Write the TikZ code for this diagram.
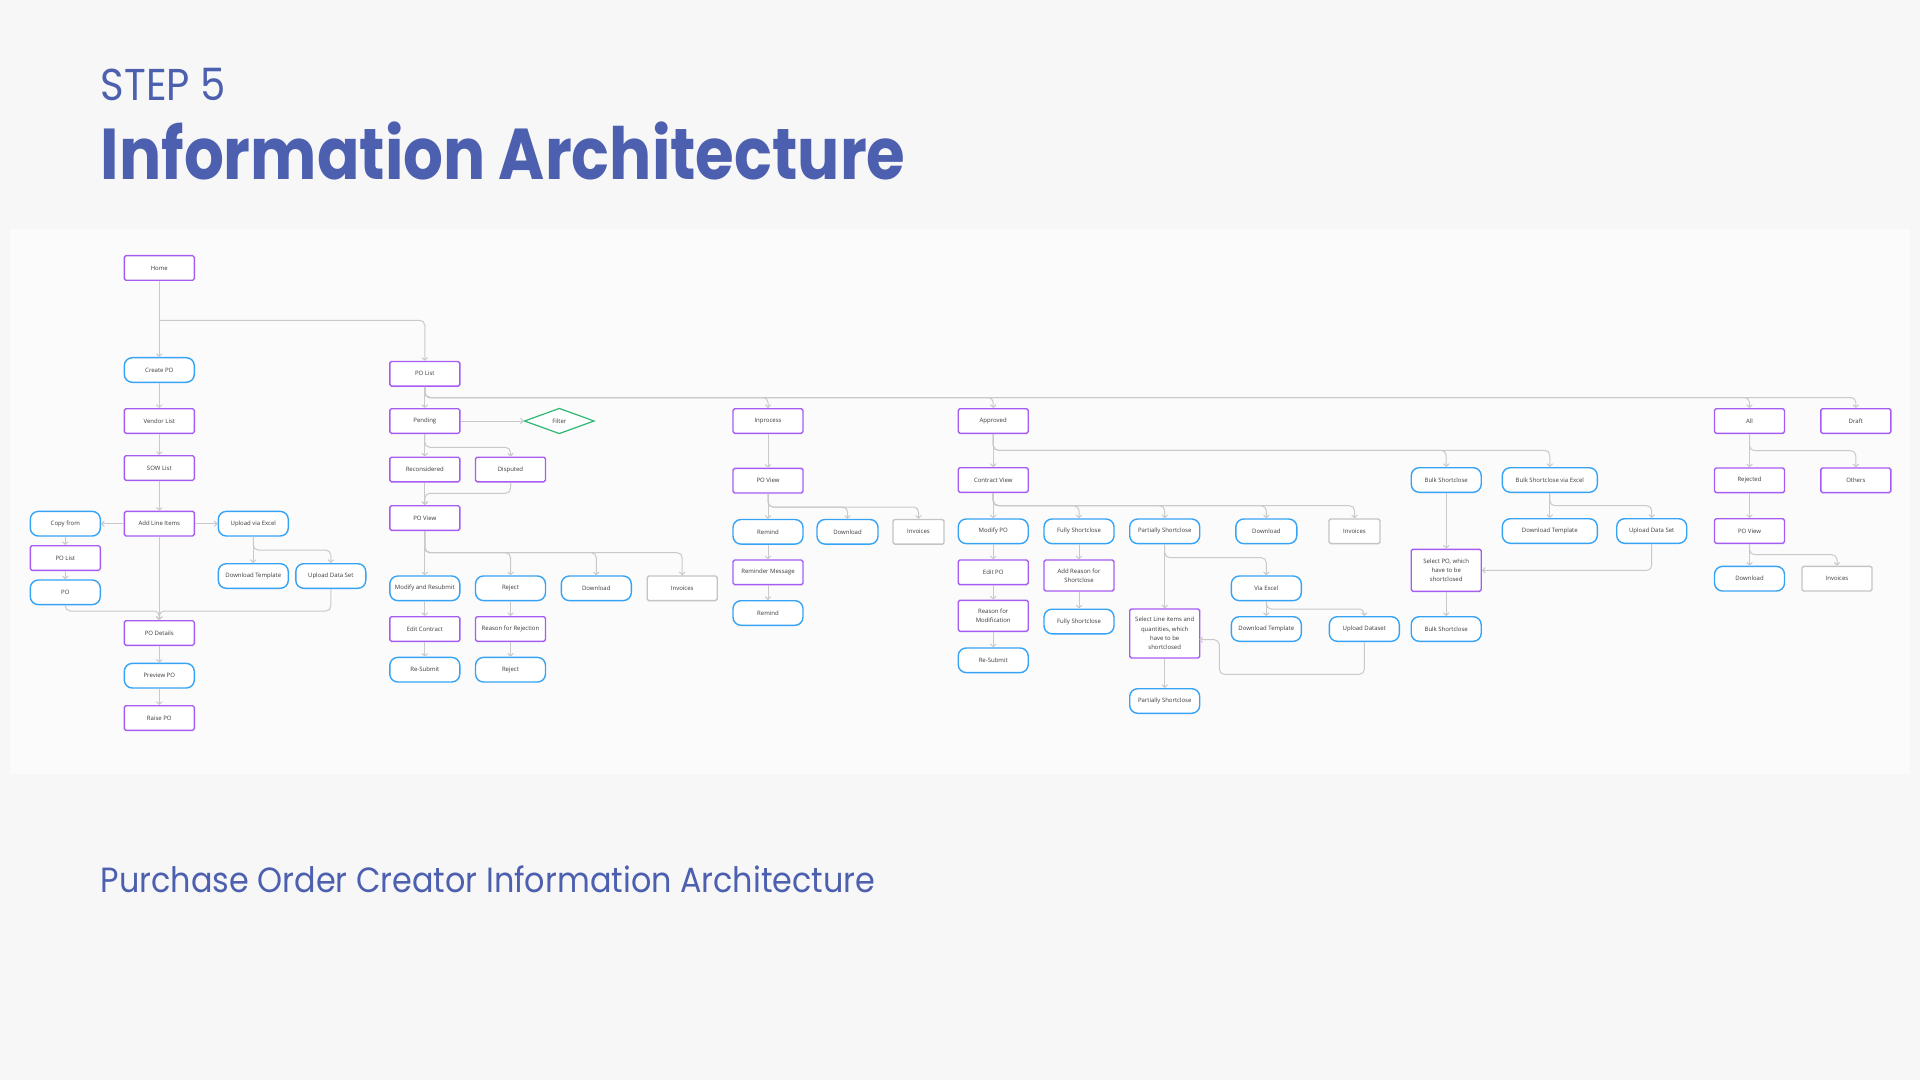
\documentclass[tikz,border=0pt]{standalone}
\usepackage{fontspec}
\setmainfont{Open Sans}
\newfontfamily\popA[FakeStretch=0.9]{Poppins}
\newfontfamily\popB[FakeStretch=0.87]{Poppins}
\newfontfamily\popC[FakeStretch=0.91]{Poppins}
\usetikzlibrary{shapes.geometric,arrows.meta}
\definecolor{pagebg}{HTML}{F7F7F7}
\definecolor{panelbg}{HTML}{FBFBFB}
\definecolor{titleblue}{HTML}{4C60AF}
\definecolor{pbord}{HTML}{A65CF2}
\definecolor{bbord}{HTML}{36A3F5}
\definecolor{gbord}{HTML}{C4C4C4}
\definecolor{dgreen}{HTML}{2EB872}
\definecolor{conncol}{HTML}{C9C9C9}
\definecolor{txt}{HTML}{3A3A3A}
\tikzset{
  basebox/.style={minimum width=35pt, minimum height=12.3pt, inner sep=1pt, fill=white,
    line width=0.7pt, font=\fontsize{3}{4.6}\selectfont, text=txt, align=center},
  pbox/.style={basebox, draw=pbord, rounded corners=0.8pt},
  bbox/.style={basebox, draw=bbord, rounded corners=4pt},
  gbox/.style={basebox, draw=gbord, rounded corners=0.8pt},
  dbox/.style={diamond, aspect=2.8, minimum width=35pt, minimum height=12.8pt, inner sep=0pt,
    draw=dgreen, line width=0.6pt, fill=white, font=\fontsize{3}{4.6}\selectfont, text=txt},
  conn/.style={draw=conncol, line width=0.5pt, rounded corners=2.5pt,
    -{Straight Barb[length=1.3pt,width=2.8pt]}},
  titletxt/.style={anchor=base west, inner sep=0, text=titleblue}
}
\newcommand\brc[3]{\draw[conn] (#1.south) |- (#2 -| #3) -- (#3);}
\begin{document}
\begin{tikzpicture}[x=0.5pt,y=-0.5pt]
\useasboundingbox (0,0) rectangle (1920,1080);
\fill[pagebg] (0,0) rectangle (1920,1080);
\fill[panelbg] (10,229) rectangle (1910,774);

% titles
\node[titletxt, font=\popA\fontsize{22.3}{26}\selectfont] (step) at (100.4,100.4) {STEP 5};
\node[titletxt, font=\popB\bfseries\fontsize{36}{42}\selectfont] (title) at (100.4,180) {Information Architecture};
\node[titletxt, font=\popC\fontsize{17.5}{21}\selectfont] (sub) at (100.4,892.7) {Purchase Order Creator Information Architecture};

% ---- column 1: create PO
\node[pbox] (home) at (159.3,268) {Home};
\node[bbox] (createpo) at (159.3,370) {Create PO};
\node[pbox] (vendor) at (159.3,421) {Vendor List};
\node[pbox] (sow) at (159.3,468) {SOW List};
\node[pbox] (addli) at (159.3,523.7) {Add Line Items};
\node[bbox] (copyfrom) at (65.3,523.7) {Copy from};
\node[pbox] (polistA) at (65.3,558) {PO List};
\node[bbox] (poA) at (65.3,592.3) {PO};
\node[bbox] (uploadxl) at (253.3,523.7) {Upload via Excel};
\node[bbox] (dltempA) at (253.3,576) {Download Template};
\node[bbox] (updsA) at (330.8,576) {Upload Data Set};
\node[pbox] (podetails) at (159.3,633) {PO Details};
\node[bbox] (preview) at (159.3,675.7) {Preview PO};
\node[pbox] (raise) at (159.3,718) {Raise PO};

% ---- column 2: PO list / pending
\node[pbox] (polist) at (424.8,373.8) {PO List};
\node[pbox] (pending) at (424.8,421) {Pending};
\node[dbox] (filter) at (559.3,421) {Filter};
\node[pbox] (recons) at (424.8,469.5) {Reconsidered};
\node[pbox] (disputed) at (510.5,469.5) {Disputed};
\node[pbox] (poviewA) at (424.8,518) {PO View};
\node[bbox] (modres) at (424.8,588.3) {Modify and Resubmit};
\node[bbox] (rejectA) at (510.5,588.3) {Reject};
\node[bbox] (downloadA) at (596.3,588.3) {Download};
\node[gbox] (invoicesA) at (682.2,588.3) {Invoices};
\node[pbox] (editc) at (424.8,629) {Edit Contract};
\node[pbox] (reasonrej) at (510.5,629) {Reason for Rejection};
\node[bbox] (resubA) at (424.8,669.7) {Re-Submit};
\node[bbox] (rejectB) at (510.5,669.7) {Reject};

% ---- inprocess
\node[pbox] (inproc) at (768,421) {Inprocess};
\node[pbox] (poviewB) at (768,480.7) {PO View};
\node[bbox] (remindA) at (768,531.8) {Remind};
\node[bbox, minimum width=30.5pt] (downloadB) at (847.5,531.8) {Download};
\node[gbox, minimum width=25.5pt] (invoicesB) at (918.5,531.8) {Invoices};
\node[pbox] (remmsg) at (768,572.3) {Reminder Message};
\node[bbox] (remindB) at (768,613) {Remind};

% ---- approved
\node[pbox] (approved) at (993.2,421) {Approved};
\node[pbox] (contract) at (993.2,480) {Contract View};
\node[bbox] (modpo) at (993.2,531.3) {Modify PO};
\node[bbox] (fullyA) at (1079,531.3) {Fully Shortclose};
\node[bbox] (partialA) at (1164.7,531.3) {Partially Shortclose};
\node[bbox, minimum width=30.5pt] (downloadC) at (1266.3,531.3) {Download};
\node[gbox, minimum width=25.5pt] (invoicesC) at (1354.5,531.3) {Invoices};
\node[pbox] (editpo) at (993.2,572.3) {Edit PO};
\node[pbox, minimum height=15.5pt] (reasonmod) at (993.2,615.8) {Reason for\\Modification};
\node[bbox] (resubB) at (993.2,660.3) {Re-Submit};
\node[pbox, minimum height=15.5pt] (addreason) at (1079,575.5) {Add Reason for\\Shortclose};
\node[bbox] (fullyB) at (1079,621.5) {Fully Shortclose};
\node[bbox] (viaexcel) at (1266.3,588.3) {Via Excel};
\node[pbox, minimum height=24.5pt] (selectli) at (1164.7,633.5) {Select Line items and\\quantities, which\\have to be\\shortclosed};
\node[bbox] (dltempB) at (1266.3,629) {Download Template};
\node[bbox] (updsB) at (1364.3,629) {Upload Dataset};
\node[bbox] (partialB) at (1164.7,701) {Partially Shortclose};

% ---- bulk shortclose
\node[bbox] (bulkA) at (1446.2,480) {Bulk Shortclose};
\node[bbox, minimum width=47.5pt] (bulkxl) at (1549.8,480) {Bulk Shortclose via Excel};
\node[bbox, minimum width=47.5pt] (dltempC) at (1549.8,531) {Download Template};
\node[bbox] (updsC) at (1651.7,531) {Upload Data Set};
\node[pbox, minimum height=21pt] (selectpo) at (1446.2,570.3) {Select PO, which\\have to be\\shortclosed};
\node[bbox] (bulkB) at (1446.2,629) {Bulk Shortclose};

% ---- all / draft
\node[pbox] (all) at (1749.5,421) {All};
\node[pbox] (draft) at (1855.8,421) {Draft};
\node[pbox] (rejected) at (1749.5,480.3) {Rejected};
\node[pbox] (others) at (1855.8,480.3) {Others};
\node[pbox] (poviewC) at (1749.5,531) {PO View};
\node[bbox] (downloadD) at (1749.5,578.7) {Download};
\node[gbox] (invoicesD) at (1837,578.7) {Invoices};

% ---- junction coordinates
\coordinate (jhome) at (159.3,320.3);
\coordinate (jpl) at (424.8,397.5);
\coordinate (jup) at (253.3,550);
\coordinate (jmerge) at (159.3,611);
\coordinate (jpend) at (424.8,447.3);
\coordinate (jdisp) at (424.8,493.3);
\coordinate (jpva) at (424.8,552.7);
\coordinate (jpvb) at (768,507);
\coordinate (jappr) at (993.2,450.3);
\coordinate (jcv) at (993.2,505.7);
\coordinate (jpart) at (1164.7,557.7);
\coordinate (jvx) at (1266.3,609);
\coordinate (jret1) at (1219.3,674.3);
\coordinate (jret2) at (1199.3,639.7);
\coordinate (jbx) at (1549.8,505.7);
\coordinate (jall) at (1749.5,450.7);
\coordinate (jpvc) at (1749.5,554.7);

% ---- connectors column 1
\draw[conn] (home) -- (createpo);
\draw[conn] (jhome) -| (polist);
\draw[conn] (createpo) -- (vendor);
\draw[conn] (vendor) -- (sow);
\draw[conn] (sow) -- (addli);
\draw[conn] (addli) -- (copyfrom);
\draw[conn] (addli) -- (uploadxl);
\draw[conn] (copyfrom) -- (polistA);
\draw[conn] (polistA) -- (poA);
\draw[conn] (uploadxl) -- (dltempA);
\brc{uploadxl}{jup}{updsA}
\draw[conn] (addli) -- (podetails);
\draw[conn] (poA.south) |- (jmerge) -- (podetails);
\draw[conn] (updsA.south) |- (jmerge) -- (podetails);
\draw[conn] (podetails) -- (preview);
\draw[conn] (preview) -- (raise);

% ---- column 2
\draw[conn] (polist) -- (pending);
\brc{polist}{jpl}{inproc}
\brc{polist}{jpl}{approved}
\brc{polist}{jpl}{all}
\brc{polist}{jpl}{draft}
\draw[conn] (pending) -- (filter);
\draw[conn] (pending) -- (recons);
\brc{pending}{jpend}{disputed}
\draw[conn] (recons) -- (poviewA);
\draw[conn] (disputed.south) |- (jdisp) -- (poviewA);
\draw[conn] (poviewA) -- (modres);
\brc{poviewA}{jpva}{rejectA}
\brc{poviewA}{jpva}{downloadA}
\brc{poviewA}{jpva}{invoicesA}
\draw[conn] (modres) -- (editc);
\draw[conn] (editc) -- (resubA);
\draw[conn] (rejectA) -- (reasonrej);
\draw[conn] (reasonrej) -- (rejectB);

% ---- inprocess
\draw[conn] (inproc) -- (poviewB);
\draw[conn] (poviewB) -- (remindA);
\brc{poviewB}{jpvb}{downloadB}
\brc{poviewB}{jpvb}{invoicesB}
\draw[conn] (remindA) -- (remmsg);
\draw[conn] (remmsg) -- (remindB);

% ---- approved
\draw[conn] (approved) -- (contract);
\brc{approved}{jappr}{bulkA}
\brc{approved}{jappr}{bulkxl}
\draw[conn] (contract) -- (modpo);
\brc{contract}{jcv}{fullyA}
\brc{contract}{jcv}{partialA}
\brc{contract}{jcv}{downloadC}
\brc{contract}{jcv}{invoicesC}
\draw[conn] (modpo) -- (editpo);
\draw[conn] (editpo) -- (reasonmod);
\draw[conn] (reasonmod) -- (resubB);
\draw[conn] (fullyA) -- (addreason);
\draw[conn] (addreason) -- (fullyB);
\draw[conn] (partialA) -- (selectli);
\brc{partialA}{jpart}{viaexcel}
\draw[conn] (viaexcel) -- (dltempB);
\brc{viaexcel}{jvx}{updsB}
\draw[conn] (updsB.south) |- (jret1) |- (jret2);
\draw[conn] (selectli) -- (partialB);

% ---- bulk
\draw[conn] (bulkA) -- (selectpo);
\draw[conn] (selectpo) -- (bulkB);
\draw[conn] (bulkxl) -- (dltempC);
\brc{bulkxl}{jbx}{updsC}
\draw[conn] (updsC.south) |- (selectpo.east);

% ---- all
\draw[conn] (all) -- (rejected);
\brc{all}{jall}{others}
\draw[conn] (rejected) -- (poviewC);
\draw[conn] (poviewC) -- (downloadD);
\brc{poviewC}{jpvc}{invoicesD}
\end{tikzpicture}
\end{document}
